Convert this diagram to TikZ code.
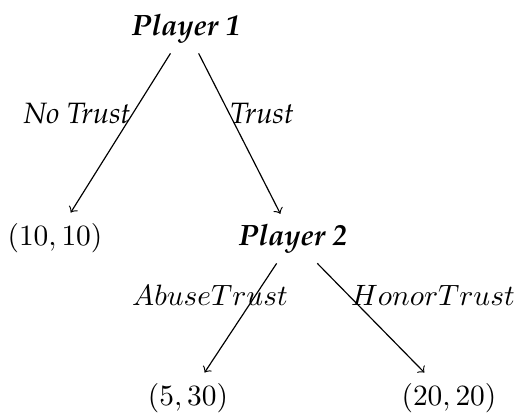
\documentclass[tikz,border=0pt]{standalone}
\usepackage[T1]{fontenc}
\renewcommand{\rmdefault}{ppl}
\tikzset{
  player/.style={font=\bfseries\itshape, anchor=base},
  payoff/.style={anchor=base},
  movelbl/.style={font=\itshape, anchor=base, inner sep=0pt},
  mathlbl/.style={anchor=base, inner sep=0pt},
  branch/.style={->, thin}
}
\begin{document}
\begin{tikzpicture}[x=0.3401pt, y=-0.3401pt]
\useasboundingbox (0,0) rectangle (516,415);
\node[player] (p1) at (186,35) {Player 1};
\node[payoff] (n1) at (55,245) {$(10,10)$};
\node[player] (p2) at (293,245) {Player 2};
\node[payoff] (n2) at (188,405) {$(5,30)$};
\node[payoff] (n3) at (449,405) {$(20,20)$};
\draw[branch] (p1) -- (n1);
\draw[branch] (p1) -- (p2);
\draw[branch] (p2) -- (n2);
\draw[branch] (p2) -- (n3);
\node[movelbl] (l1) at (77,123) {No Trust};
\node[movelbl] (l2) at (262,123) {Trust};
\node[mathlbl] (l3) at (210,305) {$AbuseTrust$};
\node[mathlbl] (l4) at (433,305) {$HonorTrust$};
\end{tikzpicture}
\end{document}
